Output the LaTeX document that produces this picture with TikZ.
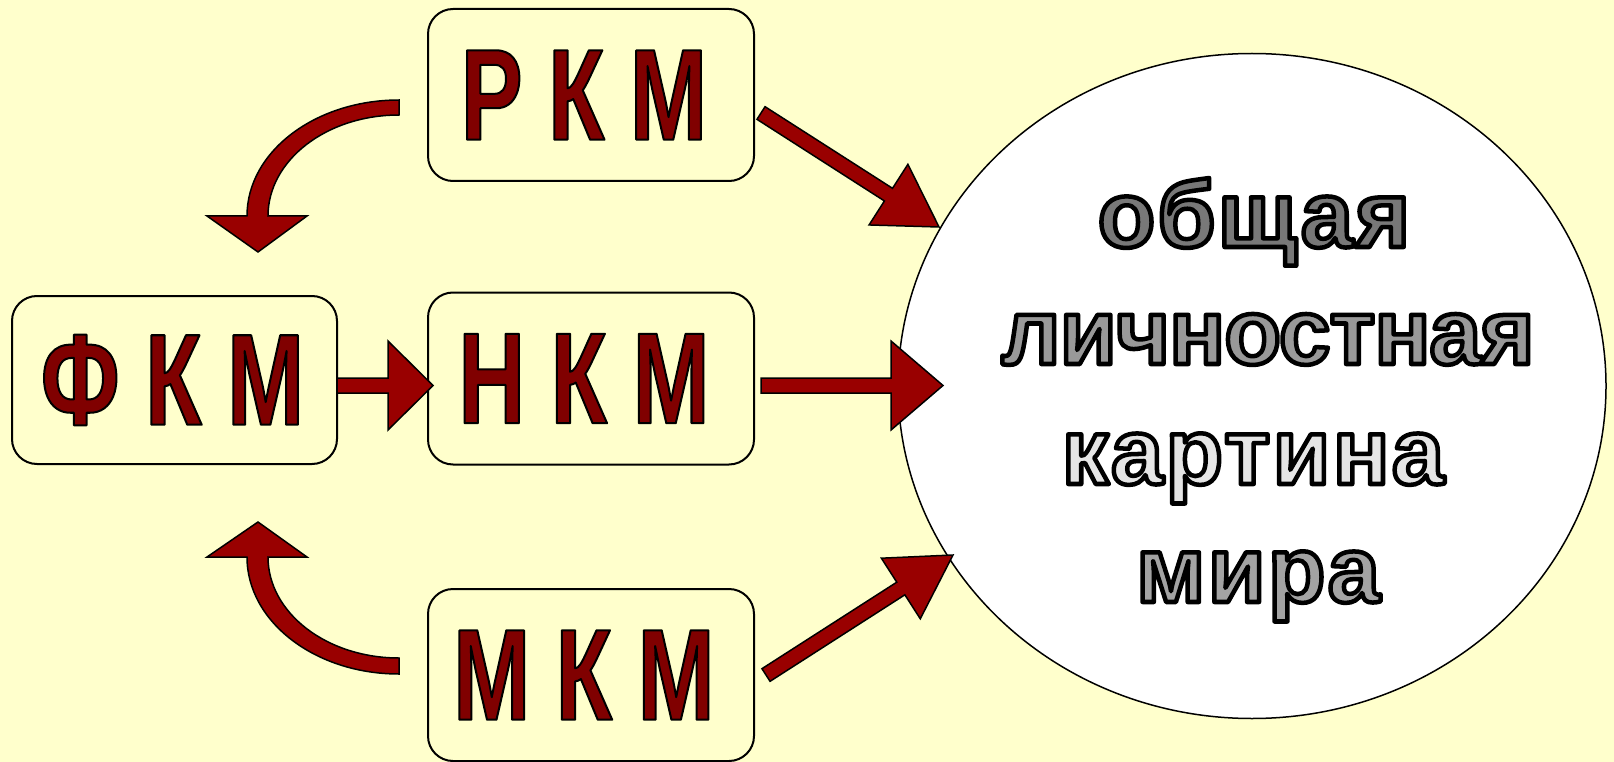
\documentclass[tikz,border=0pt]{standalone}
\usepackage{fontspec}
\usetikzlibrary{shapes.geometric,calc}
\newfontfamily\narrowfont{Liberation Sans}[FakeStretch=0.71]
\newfontfamily\wordfont{Liberation Sans}[LetterSpace=2.5]
\newfontfamily\wordfontB{Liberation Sans}[LetterSpace=-1]
\definecolor{bg}{HTML}{FFFFCC}
\definecolor{arrowred}{HTML}{990000}
% outlined text: stroke width #1, fill rgb #2, text #3 (fill then black stroke)
\newcommand\outlinetext[3]{%
  \special{pdf:bcolor [#2] [0 0 0]}%
  \special{pdf:literal direct #1 w 1 j 2 Tr}#3\special{pdf:literal direct 0 Tr}%
  \special{pdf:ecolor}}
% block arrow from #1 to #2, head length #3, head half width #4
\newcommand\blockarrow[4]{%
  \coordinate (ba-h) at ($(#2)!#3!(#1)$);
  \draw[blockarrowstyle]
    ($(#1)!7.5pt!90:(#2)$) -- ($(ba-h)!7.5pt!90:(#2)$) -- ($(ba-h)!#4!90:(#2)$)
    -- (#2) -- ($(ba-h)!#4!-90:(#2)$) -- ($(ba-h)!7.5pt!-90:(#2)$)
    -- ($(#1)!7.5pt!-90:(#2)$) -- cycle;}
\tikzset{
  kbox/.style={draw=black, line width=2pt, fill=bg, rounded corners=25pt,
    minimum width=326pt, minimum height=172pt, inner sep=0pt,
    font=\narrowfont\bfseries\fontsize{130}{130}\selectfont},
  world/.style={ellipse, draw=black, line width=1.5pt, fill=white,
    minimum width=708pt, minimum height=665pt, inner sep=0pt},
  blockarrowstyle/.style={draw=black, line width=1.5pt, fill=arrowred, line join=miter},
  wordline/.style={anchor=base, inner sep=0pt,
    font=\wordfont\bfseries\fontsize{94}{110}\selectfont}
}
\begin{document}
\begin{tikzpicture}[x=1pt,y=-1pt]
\fill[bg] (0,0) rectangle (1614,762);
\useasboundingbox (0,0) rectangle (1614,762);

\node[kbox] (rkm) at (591,95) {\outlinetext{2}{0.502 0 0}{Р К М}\hspace*{14pt}};
\node[kbox] (nkm) at (591,378.5) {\outlinetext{2}{0.502 0 0}{Н К М}\hspace*{14pt}};
\node[kbox] (mkm) at (591,675) {\outlinetext{2}{0.502 0 0}{М К М}\hspace*{14pt}};
\node[kbox, minimum width=325pt, minimum height=168pt] (fkm) at (174.5,380) {\outlinetext{2}{0.502 0 0}{Ф К М}\hspace*{4pt}};

\node[world] (world) at (1252,386) {};

% curved arrows
\draw[blockarrowstyle] (399,100) arc[start angle=90, end angle=180, x radius=152pt, y radius=116pt]
  -- (207,216) -- (258,252) -- (307,216) -- (268,216)
  arc[start angle=180, end angle=90, x radius=131pt, y radius=101pt] -- cycle;
\draw[blockarrowstyle] (399,674) arc[start angle=270, end angle=180, x radius=152pt, y radius=117pt]
  -- (207,557) -- (258,522) -- (307,557) -- (268,557)
  arc[start angle=180, end angle=270, x radius=131pt, y radius=101pt] -- cycle;

% straight arrows
\coordinate (a1s) at (337,385.5); \coordinate (a1e) at (433,385.5);
\coordinate (a2s) at (761,385.5); \coordinate (a2e) at (943,385.5);
\coordinate (a3s) at (761,113);   \coordinate (a3e) at (939,227);
\coordinate (a4s) at (766,675);   \coordinate (a4e) at (953,555);
\blockarrow{a1s}{a1e}{45pt}{44.5pt}
\blockarrow{a2s}{a2e}{52pt}{44.5pt}
\blockarrow{a3s}{a3e}{60pt}{36pt}
\blockarrow{a4s}{a4e}{62pt}{36pt}

% words in the ellipse
\node[wordline] (w1) at (1254,247) {\outlinetext{4.5}{0.47 0.47 0.47}{общая}};
\node[wordline, font=\wordfontB\bfseries\fontsize{93}{110}\selectfont] (w2) at (1268,364) {\outlinetext{4.5}{0.60 0.60 0.60}{личностная}};
\node[wordline] (w3) at (1253,484) {\outlinetext{4.5}{0.90 0.90 0.90}{картина}};
\node[wordline] (w4) at (1258,602) {\outlinetext{4.5}{0.64 0.64 0.64}{мира}};
\end{tikzpicture}
\end{document}
